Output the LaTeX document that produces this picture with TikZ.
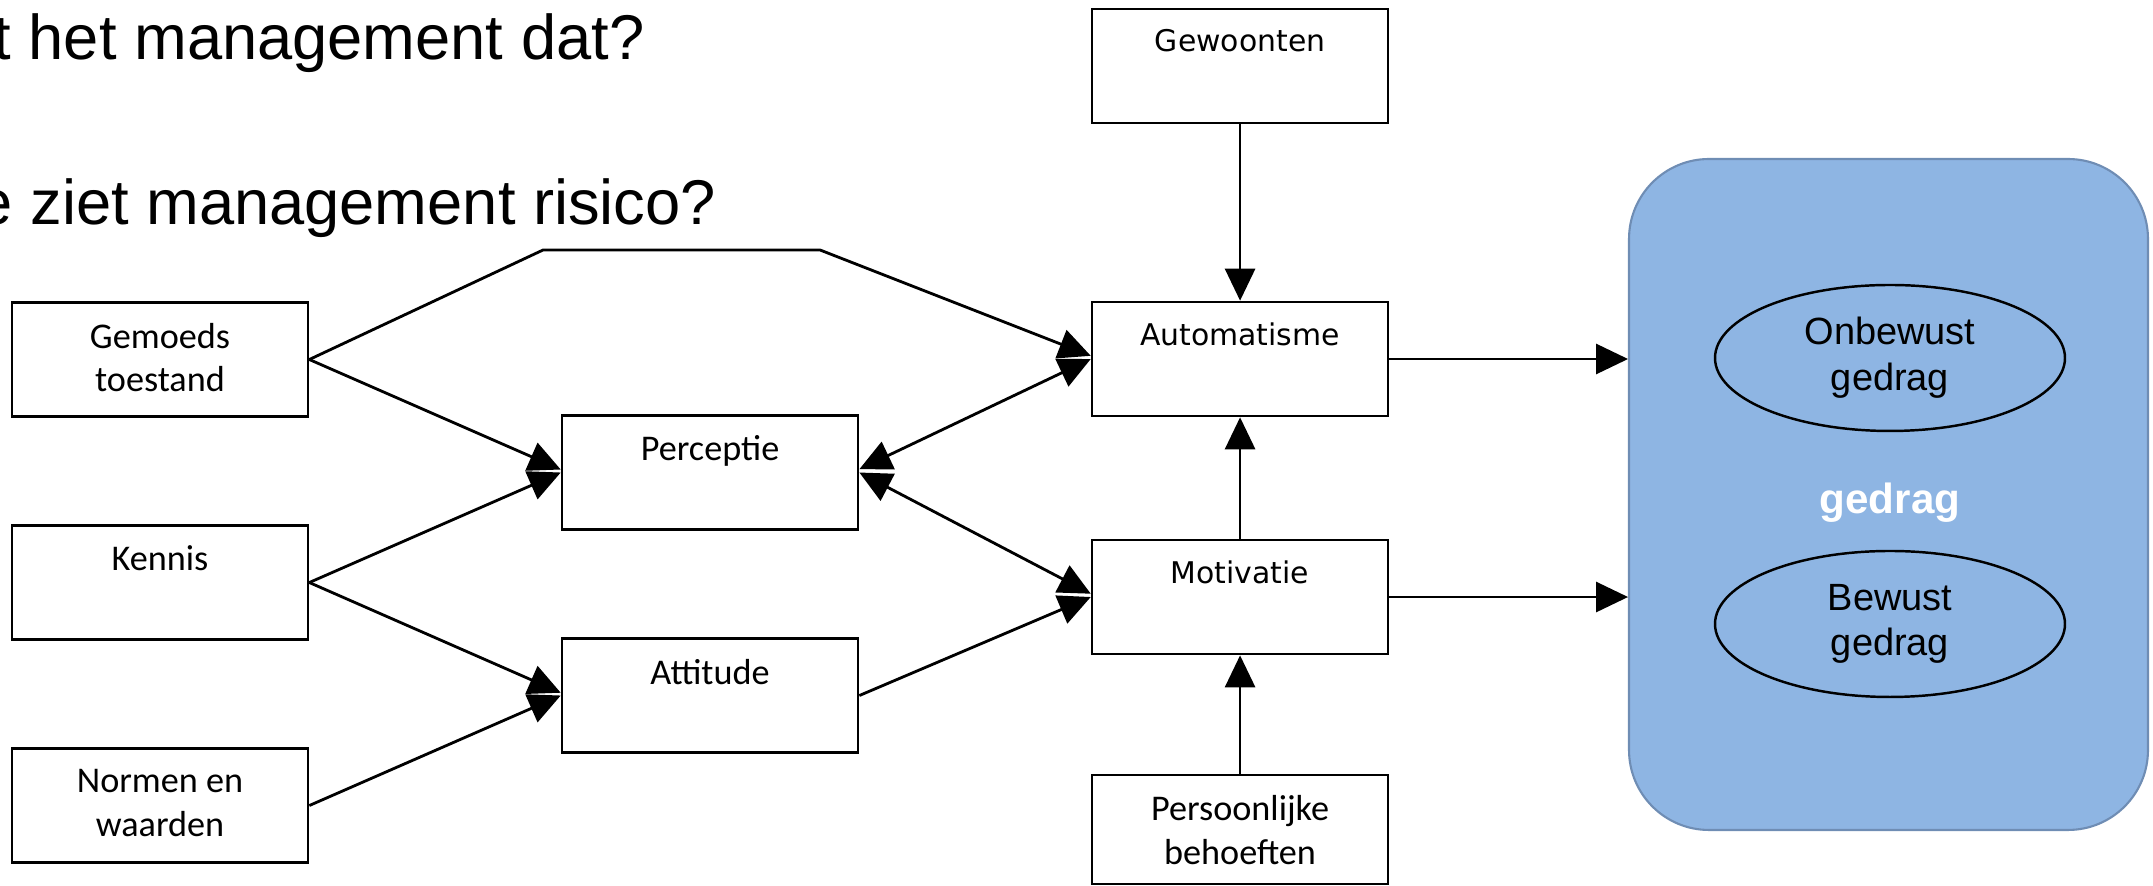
\documentclass[tikz,border=0pt]{standalone}
\usepackage{fontspec}
\usetikzlibrary{arrows.meta,shapes.geometric}
\setmainfont{Liberation Sans}
\newfontfamily\carlito{Carlito}
\newfontfamily\dejavu{DejaVu Sans}
\newcommand{\kaderfont}{\carlito\fontsize{10.3}{12.5}\selectfont}
\newcommand{\kaderfontb}{\dejavu\fontsize{8.5}{10}\selectfont}
\newcommand{\ellipsfont}{\fontsize{10.8}{13}\selectfont}
\definecolor{gedragvulling}{HTML}{8EB5E3}
\definecolor{gedragrand}{HTML}{6F8DB4}

\begin{document}
\begin{tikzpicture}[scale=0.1]
		\tikzset{
			blok/.style={draw=black, line width=0.75pt, minimum width=2.96cm, minimum height=1.14cm, inner sep=0pt,
				label={[font=\kaderfont, align=center, anchor=north, inner sep=0pt, yshift=-2.1mm]north:#1}},
			pijl/.style={-{Triangle[length=3.2mm,width=3mm]}, line width=0.8pt},
			dubbelpijl/.style={{Triangle[length=3.2mm,width=3mm]}-{Triangle[length=3.2mm,width=3mm]}, line width=0.8pt},
			vraag/.style={anchor=base west, inner sep=0pt, font=\fontsize{18}{21}\selectfont}
		}
		\useasboundingbox (0,0) rectangle (215.3,-88.6);
		\clip (0,0) rectangle (215.3,-88.6);
		% vragen
		\node [vraag] (vraag1) at (-0.7,-6.0) {t het management dat?};
		\node [vraag] (vraag2) at (-2.3,-22.5) {e ziet management risico?};
		% kaders
		\node [blok={Gemoeds\\toestand}] (gemoeds) at (16.0,-35.95) {};
		\node [blok=Kennis] (kennis) at (16.0,-58.25) {};
		\node [blok={Normen en\\waarden}] (normen) at (16.0,-80.55) {};
		\node [blok=Perceptie] (perceptie) at (71.0,-47.25) {};
		\node [blok=Attitude] (attitude) at (71.0,-69.55) {};
		\node [blok={\kaderfontb Gewoonten}] (gewoonten) at (124.0,-6.6) {};
		\node [blok={\kaderfontb Automatisme}] (automatisme) at (124.0,-35.9) {};
		\node [blok={\kaderfontb Motivatie}] (motivatie) at (124.0,-59.7) {};
		\node [blok={Persoonlijke\\behoeften}, minimum height=1.09cm] (behoeften) at (124.0,-82.95) {};
		% gedrag
		\node [draw=gedragrand, line width=0.6pt, fill=gedragvulling, rounded corners=0.8cm,
			minimum width=5.19cm, minimum height=6.71cm] (gedrag) at (188.85,-49.45) {};
		\node [ellipse, draw, line width=0.7pt, minimum width=3.5cm, minimum height=1.46cm, inner sep=0pt,
			align=center, font=\ellipsfont] (onbewust) at (189.0,-35.8) {Onbewust\\gedrag};
		\node [ellipse, draw, line width=0.7pt, minimum width=3.5cm, minimum height=1.46cm, inner sep=0pt,
			align=center, font=\ellipsfont] (bewust) at (189.0,-62.4) {Bewust\\gedrag};
		\node [anchor=base, text=white, font=\bfseries\fontsize{12}{14}\selectfont] (gedragtekst) at (189.0,-51.4) {gedrag};
		% pijlen
		\coordinate (knikA) at (54.3,-25.0);
		\coordinate (knikB) at (82.0,-25.0);
		\draw [pijl] (gemoeds.east) -- (knikA) -- (knikB) -- ([yshift=3.2mm]automatisme.west);
		\draw [pijl] (gemoeds.east) -- ([yshift=3mm]perceptie.west);
		\draw [pijl] (kennis.east) -- (perceptie.west);
		\draw [pijl] (kennis.east) -- ([yshift=2.8mm]attitude.west);
		\draw [pijl] (normen.east) -- (attitude.west);
		\draw [dubbelpijl] ([yshift=3.3mm]perceptie.east) -- (automatisme.west);
		\draw [dubbelpijl] (perceptie.east) -- ([yshift=3.3mm]motivatie.west);
		\draw [pijl] (attitude.east) -- (motivatie.west);
		\draw [pijl] (gewoonten.south) -- (automatisme.north);
		\draw [pijl] (motivatie.north) -- (automatisme.south);
		\draw [pijl] (behoeften.north) -- (motivatie.south);
		\draw [pijl] (automatisme.east) -- (automatisme.east -| gedrag.west);
		\draw [pijl] (motivatie.east) -- (motivatie.east -| gedrag.west);
	\end{tikzpicture}
\end{document}
